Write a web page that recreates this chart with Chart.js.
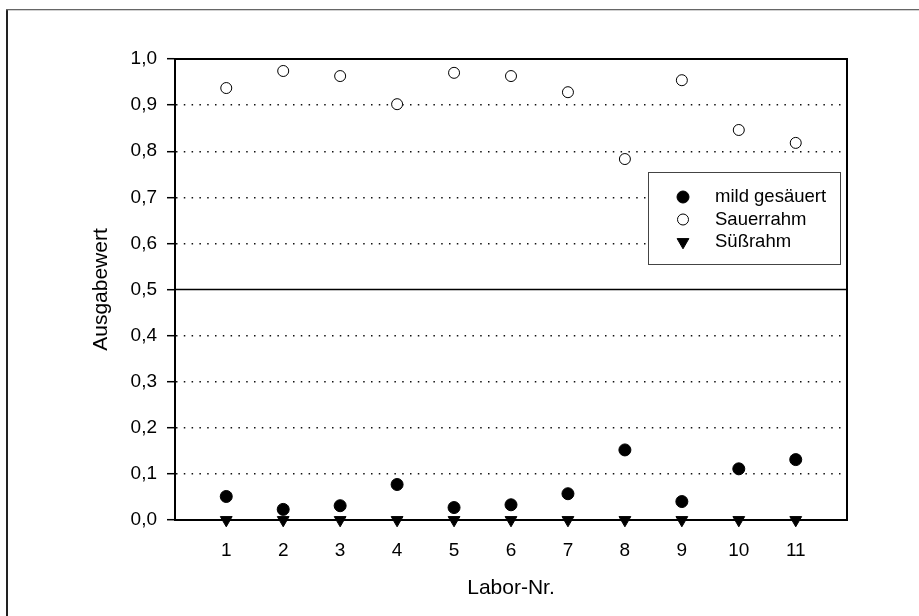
<!DOCTYPE html>
<html>
<head>
<meta charset="utf-8">
<script src="https://cdn.jsdelivr.net/npm/chart.js@4.4.0/dist/chart.umd.min.js"></script>
<style>
  html, body { margin: 0; padding: 0; background: #fff; }
  #wrap { width: 919px; height: 616px; }
</style>
</head>
<body>
<div id="wrap"><canvas id="c" width="919" height="616"></canvas></div>
<script>
// Labor-Nr. 1..11
const laborNr = [1, 2, 3, 4, 5, 6, 7, 8, 9, 10, 11];
const mildGesaeuert = [0.051, 0.023, 0.031, 0.077, 0.027, 0.033, 0.057, 0.152, 0.040, 0.111, 0.131];
const sauerrahm = [0.937, 0.974, 0.963, 0.902, 0.970, 0.963, 0.928, 0.783, 0.954, 0.846, 0.818];
const suessrahm = [0, 0, 0, 0, 0, 0, 0, 0, 0, 0, 0];
const yTicks = [0, 0.1, 0.2, 0.3, 0.4, 0.5, 0.6, 0.7, 0.8, 0.9, 1.0];

const FONT = "'Liberation Sans', Arial, sans-serif";
Chart.defaults.font.family = FONT;
Chart.defaults.font.size = 19;
Chart.defaults.color = '#000';

const toPoints = arr => arr.map((y, i) => ({ x: laborNr[i], y }));
const fmt = v => v.toFixed(1).replace('.', ',');
const isAt = (v, t) => Math.abs(v - t) < 1e-6;

// äußerer Rahmen (nur links und oben sichtbar)
const outerFrame = {
  id: 'outerFrame',
  beforeDraw(chart) {
    const ctx = chart.ctx;
    ctx.save();
    ctx.fillStyle = '#fff';
    ctx.fillRect(0, 0, chart.width, chart.height);
    ctx.fillStyle = '#222';
    ctx.fillRect(6, 10, 2, chart.height - 10);
    ctx.fillStyle = '#666';
    ctx.fillRect(6, 9, chart.width - 6, 1.3);
    ctx.restore();
  }
};

// Rahmen des Plotbereichs + durchgezogene Linie bei 0,5
const plotFrame = {
  id: 'plotFrame',
  beforeDatasetsDraw(chart) {
    const { ctx, chartArea: a, scales } = chart;
    const y05 = scales.y.getPixelForValue(0.5);
    ctx.save();
    ctx.setLineDash([]);
    ctx.strokeStyle = '#000';
    ctx.lineWidth = 1.5;
    ctx.beginPath();
    ctx.moveTo(a.left, y05);
    ctx.lineTo(a.right, y05);
    ctx.stroke();
    ctx.lineWidth = 2;
    ctx.strokeRect(a.left, a.top, a.right - a.left, a.bottom - a.top);
    ctx.restore();
  }
};

// Legende mit Kasten im Plotbereich
const boxLegend = {
  id: 'boxLegend',
  afterDatasetsDraw(chart) {
    const { ctx, chartArea: a } = chart;
    const x0 = a.right - 199, y0 = a.top + 113, w = 192, h = 92;
    ctx.save();
    ctx.setLineDash([]);
    ctx.fillStyle = '#fff';
    ctx.fillRect(x0, y0, w, h);
    ctx.strokeStyle = '#444';
    ctx.lineWidth = 1;
    ctx.strokeRect(x0 + 0.5, y0 + 0.5, w, h);
    ctx.font = '18.5px ' + FONT;
    ctx.textBaseline = 'middle';
    chart.data.datasets.forEach((ds, i) => {
      const cy = y0 + 25 + i * 22.5;
      ctx.fillStyle = ds.backgroundColor;
      ctx.strokeStyle = ds.borderColor;
      ctx.lineWidth = ds.borderWidth;
      Chart.helpers.drawPoint(ctx, {
        pointStyle: ds.pointStyle,
        rotation: ds.pointRotation || 0,
        radius: ds.pointRadius,
        borderWidth: ds.borderWidth
      }, x0 + 35, cy);
      ctx.fillStyle = '#000';
      ctx.fillText(ds.label, x0 + 67, cy);
    });
    ctx.restore();
  }
};

new Chart(document.getElementById('c'), {
  type: 'scatter',
  data: {
    datasets: [
      {
        label: 'mild gesäuert',
        data: toPoints(mildGesaeuert),
        pointStyle: 'circle',
        pointRadius: 6,
        backgroundColor: '#000',
        borderColor: '#000',
        borderWidth: 1,
        clip: false
      },
      {
        label: 'Sauerrahm',
        data: toPoints(sauerrahm),
        pointStyle: 'circle',
        pointRadius: 5.5,
        backgroundColor: '#fff',
        borderColor: '#000',
        borderWidth: 1,
        clip: false
      },
      {
        label: 'Süßrahm',
        data: toPoints(suessrahm),
        pointStyle: 'triangle',
        pointRotation: 180,
        pointRadius: 6.8,
        backgroundColor: '#000',
        borderColor: '#000',
        borderWidth: 1,
        clip: false
      }
    ]
  },
  options: {
    responsive: false,
    animation: false,
    devicePixelRatio: 1,
    layout: { padding: { left: 0, top: 59, right: 72, bottom: 0 } },
    scales: {
      x: {
        type: 'linear',
        min: 0.1,
        max: 11.9,
        afterBuildTicks: s => { s.ticks = laborNr.map(v => ({ value: v })); },
        afterFit: s => { s.height = 96; },
        grid: { display: false, drawTicks: false },
        border: { display: true, color: '#000', width: 2 },
        ticks: { padding: 19, maxRotation: 0, autoSkip: false, callback: v => String(v) },
        title: { display: true, text: 'Labor-Nr.', font: { size: 21 }, padding: { top: 0, bottom: 15 } }
      },
      y: {
        min: 0,
        max: 1,
        afterBuildTicks: s => { s.ticks = yTicks.map(v => ({ value: v })); },
        afterFit: s => { s.width = 175; },
        grid: {
          color: c => (c.tick && (isAt(c.tick.value, 0) || isAt(c.tick.value, 0.5) || isAt(c.tick.value, 1))) ? 'rgba(0,0,0,0)' : '#111',
          lineWidth: 1.4,
          drawTicks: true,
          tickLength: 8,
          tickColor: '#000',
          tickWidth: 1.5,
          tickBorderDash: [8, 0]
        },
        border: { display: true, color: '#000', width: 2, dash: [1.5, 6.3] },
        ticks: { padding: 10, callback: v => fmt(v) },
        title: { display: true, text: 'Ausgabewert', font: { size: 21 }, padding: { top: 89, bottom: 0 } }
      }
    },
    plugins: {
      legend: { display: false },
      tooltip: { enabled: false }
    }
  },
  plugins: [outerFrame, plotFrame, boxLegend]
});
</script>
</body>
</html>
